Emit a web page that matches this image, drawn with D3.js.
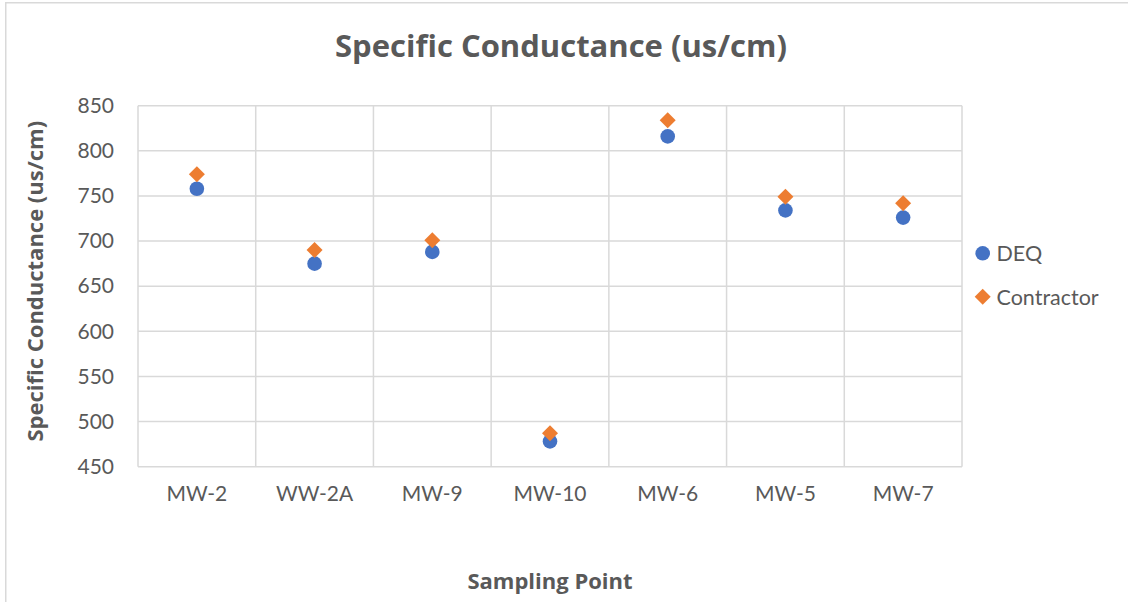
<!DOCTYPE html>
<html><head><meta charset="utf-8">
<script src="https://cdn.jsdelivr.net/npm/d3@7"></script>
<style>
html,body{margin:0;padding:0;background:#fff;}
text{font-family:Lato,"Open Sans",sans-serif;fill:#595959;}
.bold{font-family:"Open Sans",Lato,sans-serif;font-weight:bold;}
</style></head>
<body><svg id="chart" width="1128" height="602"></svg>
<script>
const categories = ["MW-2","WW-2A","MW-9","MW-10","MW-6","MW-5","MW-7"];
const deqValues = [758, 675, 688, 478, 816, 734, 726];
const contractorValues = [774, 690, 701, 487, 834, 749, 742];
const yTicks = [450,500,550,600,650,700,750,800,850];
const seriesNames = ["DEQ","Contractor"];
const seriesColors = ["#4472C4","#ED7D31"];

const svg = d3.select("#chart");
const W = 1128, H = 602;
const m = {left:138, right:962, top:105.7, bottom:466.7};

svg.append("rect").attr("x",0).attr("y",0).attr("width",W).attr("height",H).attr("fill","#fff");
svg.append("rect").attr("x",5.75).attr("y",2.75).attr("width",W+10).attr("height",H+10)
  .attr("fill","none").attr("stroke","#d9d9d9").attr("stroke-width",1.5);

const x = d3.scaleBand().domain(categories).range([m.left,m.right]).padding(0);
const y = d3.scaleLinear().domain([450,850]).range([m.bottom,m.top]);

// horizontal grid
svg.append("g").selectAll("line").data(yTicks).join("line")
  .attr("x1",m.left).attr("x2",m.right)
  .attr("y1",d=>y(d)).attr("y2",d=>y(d))
  .attr("stroke","#d9d9d9").attr("stroke-width",1.5);
// vertical grid
const vlines = categories.map(c=>x(c)).concat([m.right]);
svg.append("g").selectAll("line").data(vlines).join("line")
  .attr("x1",d=>d).attr("x2",d=>d).attr("y1",m.top).attr("y2",m.bottom)
  .attr("stroke","#d9d9d9").attr("stroke-width",1.5);

// axes
const yAxis = d3.axisLeft(y).tickValues(yTicks).tickSize(0).tickPadding(24);
const gy = svg.append("g").attr("transform",`translate(${m.left},0)`).call(yAxis);
gy.select(".domain").remove();
gy.selectAll("text").attr("font-size","21px").style("font-family","Lato").attr("fill","#595959");

const xAxis = d3.axisBottom(x).tickSize(0).tickPadding(19);
const gx = svg.append("g").attr("transform",`translate(0,${m.bottom})`).call(xAxis);
gx.select(".domain").remove();
gx.selectAll("text").attr("font-size","21px").style("font-family","Lato").attr("fill","#595959");

// markers
const diamond = d3.symbol().type(d3.symbolSquare).size(128);
svg.append("g").selectAll("circle").data(categories).join("circle")
  .attr("cx",d=>x(d)+x.bandwidth()/2).attr("cy",(d,i)=>y(deqValues[i]))
  .attr("r",7.3).attr("fill",seriesColors[0]);
svg.append("g").selectAll("path").data(categories).join("path")
  .attr("d",diamond)
  .attr("transform",(d,i)=>`translate(${x(d)+x.bandwidth()/2},${y(contractorValues[i])}) rotate(45)`)
  .attr("fill",seriesColors[1]);

// title
svg.append("text").attr("class","bold").attr("x",561).attr("y",57).attr("text-anchor","middle")
  .attr("font-size","31px").text("Specific Conductance (us/cm)");
// axis titles
svg.append("text").attr("class","bold").attr("x",(m.left+m.right)/2).attr("y",589).attr("text-anchor","middle")
  .attr("font-size","22px").text("Sampling Point");
svg.append("text").attr("class","bold").attr("transform",`translate(43,${(m.top+m.bottom)/2-5}) rotate(-90)`)
  .attr("text-anchor","middle").attr("font-size","22px")
  .text("Specific Conductance (us/cm)");

// legend
const lg = svg.append("g");
const legY = [253.3, 296.7];
lg.append("circle").attr("cx",982.7).attr("cy",legY[0]).attr("r",7.3).attr("fill",seriesColors[0]);
lg.append("path").attr("d",diamond).attr("transform",`translate(982.7,${legY[1]}) rotate(45)`).attr("fill",seriesColors[1]);
seriesNames.forEach((n,i)=>{
  lg.append("text").attr("x",996.5).attr("y",legY[i]+8).attr("font-size","21.5px").text(n);
});
</script></body></html>
